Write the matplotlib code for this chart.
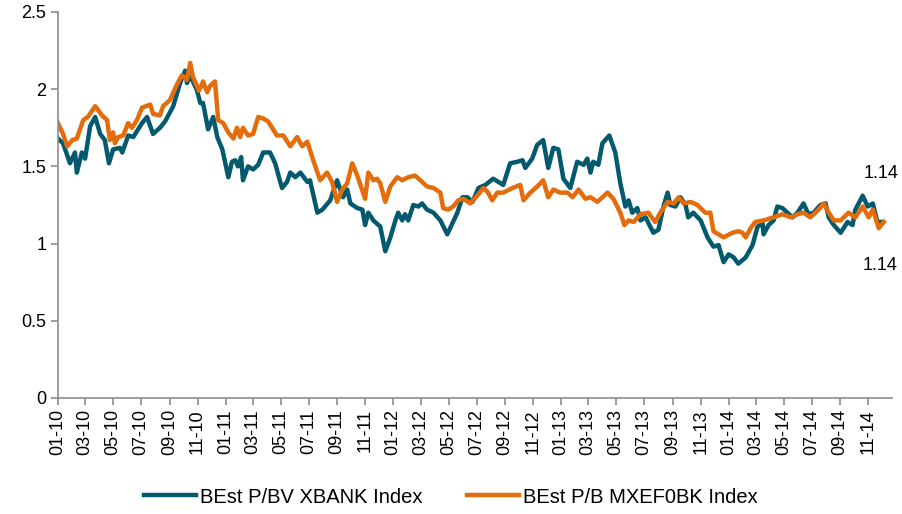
import pandas as pd
import matplotlib
matplotlib.use("Agg")
import matplotlib.pyplot as plt
import matplotlib.dates as mdates

plt.rcParams['font.family'] = ['Liberation Sans', 'DejaVu Sans']

start = pd.Timestamp('2010-01-01')

# BEst P/BV XBANK Index (days since 01-01-2010, value)
xbank_days = [0, 11, 26, 37, 41, 52, 59, 70, 81, 92, 102, 111, 120, 135, 140, 153, 164, 183, 194, 207,
              222, 233, 251, 266, 277, 281, 288, 303, 310, 316, 327, 338, 347, 358, 371, 379, 386, 392, 399, 403,
              414, 425, 436, 447, 462, 473, 488, 499, 506, 517, 528, 543, 549, 565, 576, 593, 608, 621, 630, 637,
              652, 663, 669, 676, 687, 702, 713, 724, 735, 741, 750, 756, 763, 774, 785, 793, 804, 818, 833, 848,
              859, 870, 881, 892, 903, 916, 931, 948, 959, 970, 985, 1001, 1012, 1018, 1033, 1044, 1057, 1068, 1079, 1090,
              1101, 1116, 1131, 1145, 1153, 1160, 1166, 1177, 1186, 1201, 1214, 1225, 1236, 1243, 1251, 1262, 1269, 1280, 1297, 1308,
              1319, 1328, 1334, 1345, 1356, 1367, 1373, 1384, 1400, 1415, 1428, 1439, 1450, 1461, 1472, 1482, 1498, 1513, 1524, 1535,
              1537, 1548, 1559, 1567, 1578, 1589, 1600, 1611, 1624, 1635, 1646, 1661, 1672, 1679, 1690, 1705, 1720, 1731, 1737, 1753,
              1764, 1775, 1785, 1796]
xbank_vals = [1.68, 1.65, 1.52, 1.59, 1.46, 1.59, 1.55, 1.76, 1.82, 1.71, 1.67, 1.52, 1.61, 1.62, 1.59, 1.70, 1.69, 1.78, 1.82, 1.71,
              1.75, 1.79, 1.89, 2.04, 2.12, 2.04, 2.09, 1.99, 1.91, 1.91, 1.74, 1.82, 1.69, 1.61, 1.43, 1.53, 1.54, 1.50, 1.56, 1.41,
              1.50, 1.48, 1.51, 1.59, 1.59, 1.52, 1.36, 1.40, 1.46, 1.43, 1.46, 1.40, 1.41, 1.20, 1.22, 1.28, 1.41, 1.30, 1.35, 1.26,
              1.23, 1.22, 1.12, 1.20, 1.15, 1.11, 0.95, 1.04, 1.15, 1.20, 1.15, 1.19, 1.15, 1.25, 1.24, 1.26, 1.22, 1.20, 1.15, 1.06,
              1.13, 1.20, 1.30, 1.30, 1.27, 1.36, 1.38, 1.42, 1.40, 1.38, 1.52, 1.53, 1.54, 1.49, 1.55, 1.64, 1.67, 1.49, 1.62, 1.61,
              1.42, 1.36, 1.53, 1.51, 1.55, 1.46, 1.53, 1.51, 1.65, 1.70, 1.59, 1.39, 1.24, 1.28, 1.20, 1.23, 1.15, 1.17, 1.07, 1.09,
              1.24, 1.33, 1.25, 1.24, 1.30, 1.25, 1.17, 1.20, 1.15, 1.04, 0.98, 0.99, 0.88, 0.93, 0.91, 0.87, 0.91, 0.99, 1.11, 1.13,
              1.06, 1.12, 1.15, 1.24, 1.23, 1.20, 1.17, 1.20, 1.26, 1.19, 1.20, 1.25, 1.26, 1.17, 1.12, 1.07, 1.14, 1.12, 1.22, 1.31,
              1.24, 1.26, 1.14, 1.14]

# BEst P/B MXEF0BK Index
mxef_days = [0, 11, 20, 31, 41, 55, 65, 81, 96, 107, 113, 120, 124, 131, 142, 153, 161, 172, 183, 201,
             207, 222, 229, 244, 259, 270, 281, 288, 294, 307, 316, 325, 331, 342, 349, 360, 371, 382, 390, 397,
             403, 414, 425, 436, 447, 458, 477, 491, 506, 521, 532, 543, 556, 571, 586, 597, 608, 619, 630, 641,
             652, 669, 676, 687, 695, 702, 713, 724, 739, 750, 763, 778, 789, 804, 818, 833, 839, 850, 861, 872,
             883, 898, 913, 927, 937, 946, 957, 970, 990, 1007, 1014, 1029, 1044, 1057, 1068, 1079, 1094, 1110, 1121, 1134,
             1149, 1160, 1175, 1197, 1210, 1225, 1234, 1243, 1254, 1269, 1286, 1301, 1312, 1328, 1341, 1352, 1363, 1378, 1393, 1410,
             1421, 1428, 1450, 1469, 1482, 1491, 1498, 1509, 1519, 1537, 1559, 1578, 1596, 1611, 1624, 1639, 1657, 1668, 1679, 1690,
             1705, 1722, 1737, 1753, 1766, 1775, 1788, 1799]
mxef_vals = [1.78, 1.71, 1.63, 1.67, 1.68, 1.80, 1.82, 1.89, 1.83, 1.80, 1.67, 1.72, 1.65, 1.69, 1.70, 1.78, 1.75, 1.80, 1.88, 1.90,
             1.84, 1.83, 1.89, 1.93, 2.03, 2.09, 2.06, 2.17, 2.08, 1.99, 2.05, 1.98, 2.02, 2.05, 1.80, 1.78, 1.72, 1.68, 1.75, 1.69,
             1.75, 1.70, 1.71, 1.82, 1.81, 1.79, 1.70, 1.70, 1.63, 1.69, 1.63, 1.66, 1.54, 1.41, 1.46, 1.40, 1.27, 1.35, 1.39, 1.52,
             1.44, 1.29, 1.46, 1.41, 1.42, 1.39, 1.27, 1.37, 1.43, 1.41, 1.43, 1.44, 1.41, 1.37, 1.36, 1.33, 1.23, 1.22, 1.24, 1.28,
             1.29, 1.26, 1.31, 1.36, 1.33, 1.28, 1.33, 1.33, 1.36, 1.38, 1.28, 1.33, 1.37, 1.41, 1.30, 1.35, 1.33, 1.33, 1.30, 1.35,
             1.29, 1.30, 1.27, 1.33, 1.29, 1.20, 1.12, 1.15, 1.14, 1.19, 1.20, 1.14, 1.20, 1.27, 1.26, 1.30, 1.26, 1.27, 1.25, 1.20,
             1.20, 1.08, 1.04, 1.07, 1.08, 1.07, 1.04, 1.10, 1.14, 1.15, 1.17, 1.19, 1.17, 1.19, 1.20, 1.17, 1.22, 1.26, 1.20, 1.15,
             1.15, 1.20, 1.17, 1.24, 1.17, 1.22, 1.10, 1.14]

labels = ['BEst P/BV XBANK Index', 'BEst P/B MXEF0BK Index']
colors = ['#03596E', '#E46C0A']

xbank_dates = start + pd.to_timedelta(xbank_days, unit='D')
mxef_dates = start + pd.to_timedelta(mxef_days, unit='D')

fig = plt.figure(figsize=(9.02, 5.14), dpi=100)
ax = fig.add_axes([0.0643, 0.2257, 0.9247, 0.751])

ax.plot(xbank_dates, xbank_vals, color=colors[0], lw=3.2, label=labels[0], solid_joinstyle='round')
ax.plot(mxef_dates, mxef_vals, color=colors[1], lw=3.2, label=labels[1], solid_joinstyle='round')

# last values
ax.annotate(f'{mxef_vals[-1]:.2f}', xy=(mxef_dates[-1], mxef_vals[-1]), xytext=(-2, 35),
            textcoords='offset points', ha='center', va='center', fontsize=13)
ax.annotate(f'{xbank_vals[-1]:.2f}', xy=(xbank_dates[-1], xbank_vals[-1]), xytext=(-2, -31),
            textcoords='offset points', ha='center', va='center', fontsize=13)

ax.set_ylim(0, 2.5)
ax.set_yticks([0, 0.5, 1, 1.5, 2, 2.5])
ax.set_yticklabels(['0', '0.5', '1', '1.5', '2', '2.5'])
ax.set_xlim(start, start + pd.Timedelta(days=1817))
ax.xaxis.set_major_locator(mdates.MonthLocator(bymonth=[1, 3, 5, 7, 9, 11]))
ax.xaxis.set_major_formatter(mdates.DateFormatter('%m-%y'))
plt.setp(ax.get_xticklabels(), rotation=90)

for s in ['top', 'right']:
    ax.spines[s].set_visible(False)
for s in ['left', 'bottom']:
    ax.spines[s].set_color('#8C8C8C')
    ax.spines[s].set_linewidth(1.2)
ax.tick_params(axis='both', color='#8C8C8C', width=1.2, length=5, labelsize=13, direction='out')
ax.tick_params(axis='x', pad=3)

fig.legend(loc='center', bbox_to_anchor=(0.5, 0.033), ncol=2, frameon=False, fontsize=14.5,
           handlelength=2.6, columnspacing=2.2, handletextpad=0.2)

fig.savefig('out.png', dpi=100)
